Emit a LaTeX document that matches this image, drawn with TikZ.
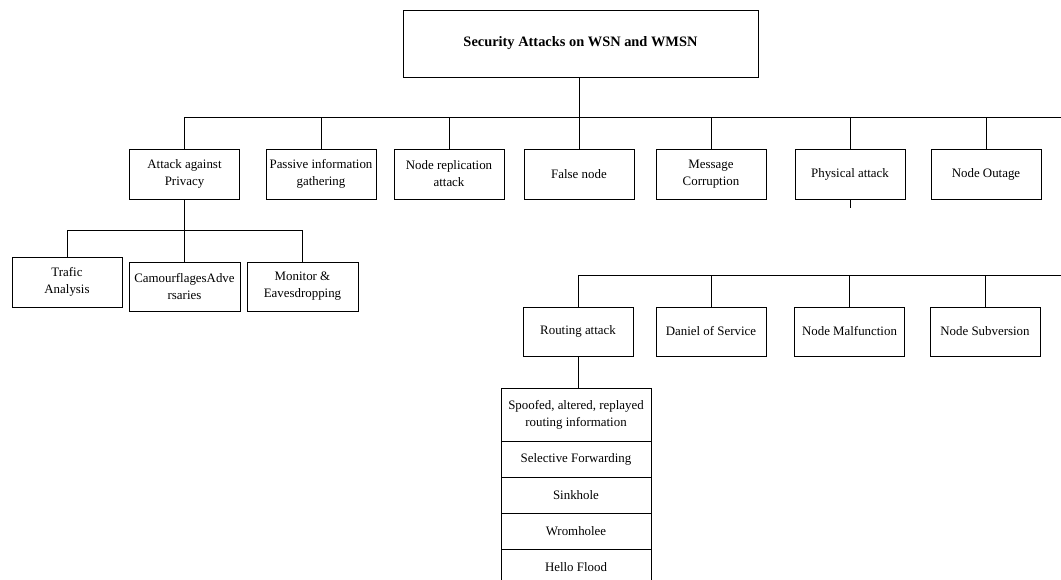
\documentclass[tikz,border=0pt]{standalone}
\usepackage{fontspec}
\setmainfont{Liberation Serif}
\begin{document}
\begin{tikzpicture}[x=1pt,y=-1pt,
  box/.style={draw, line width=0.9pt, rectangle, inner sep=0pt, align=center,
    minimum width=110pt, minimum height=50pt,
    font=\fontsize{12.9}{17}\selectfont},
  titlebox/.style={box, minimum width=355pt, minimum height=67pt,
    font=\bfseries\fontsize{14.4}{17}\selectfont},
  listrow/.style={box, minimum width=150pt, minimum height=36pt},
  link/.style={line width=0.9pt}]
\useasboundingbox (0,0) rectangle (1061,580);

% root
\node[titlebox] (title) at (580.5,43.5) {Security Attacks on WSN and WMSN};

% first level
\node[box] (priv)     at (184.5,174) {Attack against\\Privacy};
\node[box] (passive)  at (321,174)   {Passive information\\gathering};
\node[box] (noderep)  at (449,174)   {Node replication\\attack};
\node[box] (falsend)  at (579,174)   {False node};
\node[box] (message)  at (711,174)   {Message\\Corruption};
\node[box] (physical) at (850,174)   {Physical attack};
\node[box] (outage)   at (986,174)   {Node Outage};

\coordinate (b1L) at (184.5,117);
\coordinate (b1R) at (1061,117);
\draw[link] (b1L) -- (b1R);
\draw[link] (title.south -| falsend.north) -- (falsend.north);
\foreach \n in {priv,passive,noderep,message,physical,outage}
  \draw[link] (\n.north) -- (\n.north |- b1L);
\coordinate (physstub) at (850,208);
\draw[link] (physical.south) -- (physstub);

% privacy attacks
\node[box] (trafic)  at (67,282)     {Trafic\\Analysis};
\node[box, minimum width=111pt, minimum height=49pt] (camo) at (184.5,286.5) {CamourflagesAdve\\rsaries};
\node[box, minimum width=111pt, minimum height=49pt] (monitor) at (302.5,286.5) {Monitor \&\\Eavesdropping};

\coordinate (b3L) at (67,230);
\coordinate (b3R) at (302.5,230);
\draw[link] (b3L) -- (b3R);
\draw[link] (priv.south) -- (camo.north);
\draw[link] (trafic.north) -- (trafic.north |- b3L);
\draw[link] (monitor.north) -- (monitor.north |- b3L);

% second level
\node[box, minimum height=49pt] (routing)     at (578,331.5) {Routing attack};
\node[box, minimum height=49pt] (daniel)      at (711,331.5) {Daniel of Service};
\node[box, minimum height=49pt] (malfunction) at (849.5,331.5) {Node Malfunction};
\node[box, minimum height=49pt] (subversion)  at (985,331.5) {Node Subversion};

\coordinate (b2L) at (578,275);
\coordinate (b2R) at (1061,275);
\draw[link] (b2L) -- (b2R);
\foreach \n in {routing,daniel,malfunction,subversion}
  \draw[link] (\n.north) -- (\n.north |- b2L);

% routing attacks
\node[listrow, minimum height=53pt] (r1) at (576,414.5) {Spoofed, altered, replayed\\routing information};
\node[listrow] (r2) at (576,459) {Selective Forwarding};
\node[listrow] (r3) at (576,495) {Sinkhole};
\node[listrow] (r4) at (576,531) {Wromholee};
\node[listrow] (r5) at (576,567) {Hello Flood};
\draw[link] (routing.south) -- (routing.south |- r1.north);
\end{tikzpicture}
\end{document}
